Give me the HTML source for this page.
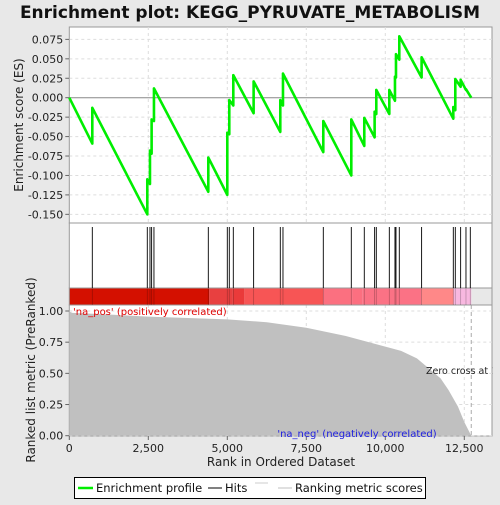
<!DOCTYPE html>
<html><head><meta charset="utf-8"><style>
body{margin:0;background:#e8e8e8;font-family:"Liberation Sans","DejaVu Sans",sans-serif}
</style></head><body>
<svg id="c" width="500" height="500" xmlns="http://www.w3.org/2000/svg" style="font-family:'DejaVu Sans','Liberation Sans',sans-serif">
<rect width="500" height="500" fill="#e8e8e8"/>
<text x="250" y="18" text-anchor="middle" font-size="17" font-weight="bold" fill="#111">Enrichment plot: KEGG_PYRUVATE_METABOLISM</text>
<g id="g"></g>
</svg>
<script>
const hitRanks=[728,2468,2553,2605,2679,4399,5000,5063,5190,5833,6677,6762,8038,8924,9335,9662,9715,10127,10306,10338,10443,11149,12152,12215,12384,12553,12690];
const esBefore=[-0.059,-0.150,-0.111,-0.072,-0.030,-0.121,-0.125,-0.047,-0.010,-0.020,-0.044,-0.010,-0.070,-0.100,-0.062,-0.051,-0.021,-0.021,-0.004,0.026,0.049,0.026,-0.027,-0.016,0.014,0.010,0.002];
const esAfter=[-0.013,-0.105,-0.068,-0.028,0.012,-0.077,-0.045,-0.003,0.029,0.021,-0.003,0.031,-0.030,-0.028,-0.026,-0.018,0.010,0.010,0.027,0.056,0.079,0.052,-0.012,0.024,0.023,0.011,0.002];
const totalRanks=12720;
const metricRanks=[0,100,1000,2500,5000,6250,7500,8750,10000,10500,11000,11250,11750,12000,12300,12500,12720];
const metricValues=[0.995,0.985,0.975,0.955,0.933,0.91,0.866,0.80,0.714,0.68,0.62,0.567,0.46,0.366,0.233,0.11,0];
const esTicks=[0.075,0.05,0.025,0,-0.025,-0.05,-0.075,-0.1,-0.125,-0.15];
const esTickLabels=["0.075","0.050","0.025","0.000","-0.025","-0.050","-0.075","-0.100","-0.125","-0.150"];
const metricTicks=[1,0.75,0.5,0.25,0];
const metricTickLabels=["1.00","0.75","0.50","0.25","0.00"];
const xTicks=[0,2500,5000,7500,10000,12500];
const xTickLabels=["0","2,500","5,000","7,500","10,000","12,500"];
const barStops=[0,4430,5160,5540,8030,8960,9270,11150,12160,12720];
const barColors=["#d41000","#e84040","#ea3a3a","#f75555","#fb7080","#fc6f80","#fb7285","#ff8888","#f8b8e0"];

const NS="http://www.w3.org/2000/svg";
const g=document.getElementById('g');
const L=69.3,R=492,T=27,B1=223,B2=288,B3=305,B4=436;
const x=r=>L+r*79/2500;
const yE=v=>97.7-v*(19.44/0.025);
const yM=v=>435.7-v*124.7;
function el(t,a,p){const e=document.createElementNS(NS,t);for(const k in a)e.setAttribute(k,a[k]);(p||g).appendChild(e);return e;}

let p1=el('rect',{x:L,y:T,width:R-L,height:B1-T,fill:'#fff',stroke:'#999'});


let p2=el('rect',{x:L,y:B1,width:R-L,height:B2-B1,fill:'#fff',stroke:'#999'});


let p4=el('rect',{x:L,y:B3,width:R-L,height:B4-B3,fill:'#fff',stroke:'#999'});



xTicks.forEach(t=>{if(t>0){
 let a=el('line',{x1:x(t),x2:x(t),y1:T,y2:B1,stroke:'#ddd','stroke-dasharray':'3,3'});
 
 
 let b=el('line',{x1:x(t),x2:x(t),y1:B3,y2:B4,stroke:'#ddd','stroke-dasharray':'3,3'});
 
 
}});
esTicks.forEach((t,i)=>{
 let a=el('line',{x1:L,x2:R,y1:yE(t),y2:yE(t),stroke:t===0?'#888':'#ddd','stroke-dasharray':t===0?'':'3,3'});
 
 
 let k=el('line',{x1:L-4,x2:L,y1:yE(t),y2:yE(t),stroke:'#666'});
 
 
 let s=el('text',{x:L-6,y:yE(t)+4,'text-anchor':'end','font-size':'11',fill:'#222'});
 s.textContent=esTickLabels[i];
 
 
});
metricTicks.forEach((t,i)=>{
 let a=el('line',{x1:L,x2:R,y1:yM(t),y2:yM(t),stroke:'#ddd','stroke-dasharray':'3,3'});
 
 
 let k=el('line',{x1:L-4,x2:L,y1:yM(t),y2:yM(t),stroke:'#666'});
 
 
 let s=el('text',{x:L-6,y:yM(t)+4,'text-anchor':'end','font-size':'11',fill:'#222'});
 s.textContent=metricTickLabels[i];
 
 
});
xTicks.forEach((t,i)=>{
 let k=el('line',{x1:x(t),x2:x(t),y1:B4,y2:B4+4,stroke:'#666'});
 
 
 let s=el('text',{x:x(t),y:B4+16,'text-anchor':'middle','font-size':'11',fill:'#222'});
 s.textContent=xTickLabels[i];
 
 
});

let d='M'+x(0)+','+yM(0);
metricRanks.forEach((r,i)=>{d+=' L'+x(r)+','+yM(metricValues[i]);});
d+=' Z';
let area=el('path',{d:d,fill:'#c0c0c0'});


let zc=el('line',{x1:x(totalRanks),x2:x(totalRanks),y1:B3,y2:B4,stroke:'#aaa','stroke-dasharray':'4,3'});



barColors.forEach((c,i)=>{
 let r=el('rect',{x:x(barStops[i]),y:B2,width:x(barStops[i+1])-x(barStops[i]),height:B3-B2,fill:c});
 
 
});
let cb=el('rect',{x:L,y:B2,width:R-L,height:B3-B2,fill:'none',stroke:'#999'});



hitRanks.forEach(r=>{
 let h=el('line',{x1:x(r),x2:x(r),y1:B1+4,y2:B2,stroke:'#000','stroke-width':'0.9'});
 
 
 let h2=el('line',{x1:x(r),x2:x(r),y1:B2,y2:B3,stroke:'rgba(0,0,0,0.25)','stroke-width':'0.8'});
 
 
});

let pts=[[x(0),yE(0)]];
hitRanks.forEach((r,i)=>{pts.push([x(r),yE(esBefore[i])]);pts.push([x(r),yE(esAfter[i])]);});
pts.push([x(totalRanks),yE(0)]);
let es=el('polyline',{points:pts.map(p=>p.join(',')).join(' '),fill:'none',stroke:'#00ee00','stroke-width':'2.6','stroke-linejoin':'round'});



function txt(s,a,name){let t=el('text',a);t.textContent=s;return t;}
txt("'na_pos' (positively correlated)",{x:73,y:315,'font-size':'10',fill:'#e00000'},'positive-label');
txt("'na_neg' (negatively correlated)",{x:357,y:437,'text-anchor':'middle','font-size':'10',fill:'#2020e0'},'negative-label');
txt("Zero cross at 12720",{x:426,y:374,'font-size':'9.5',fill:'#222'},'zero-cross-label');
txt("Rank in Ordered Dataset",{x:281,y:466,'text-anchor':'middle','font-size':'12',fill:'#222'},'x-axis-title');
txt("Enrichment score (ES)",{x:0,y:0,'text-anchor':'middle','font-size':'12',fill:'#222',transform:'translate(23,125) rotate(-90)'},'es-axis-title');
txt("Ranked list metric (PreRanked)",{x:0,y:0,'text-anchor':'middle','font-size':'12',fill:'#222',transform:'translate(35,370) rotate(-90)'},'metric-axis-title');
let clip=el('rect',{x:R+0.5,y:0,width:8,height:500,fill:'#e8e8e8'});



let lg=el('rect',{x:74.5,y:477.5,width:351,height:21,fill:'#fff',stroke:'#000'});


let l1=el('line',{x1:78,x2:93,y1:488,y2:488,stroke:'#00ee00','stroke-width':'2.5'});


txt("Enrichment profile",{x:96,y:492,'font-size':'11.5',fill:'#111'},'legend-entry-enrichment');
let l2=el('line',{x1:208,x2:222,y1:488,y2:488,stroke:'#000','stroke-width':'1'});


txt("Hits",{x:225,y:492,'font-size':'11.5',fill:'#111'},'legend-entry-hits');
let l3=el('line',{x1:255,x2:268,y1:483,y2:483,stroke:'#ccc','stroke-width':'1'});


let l4=el('line',{x1:278,x2:292,y1:488,y2:488,stroke:'#c0c0c0','stroke-width':'1'});


txt("Ranking metric scores",{x:295,y:492,'font-size':'11.5',fill:'#111'},'legend-entry-metric');
</script>
</body></html>
